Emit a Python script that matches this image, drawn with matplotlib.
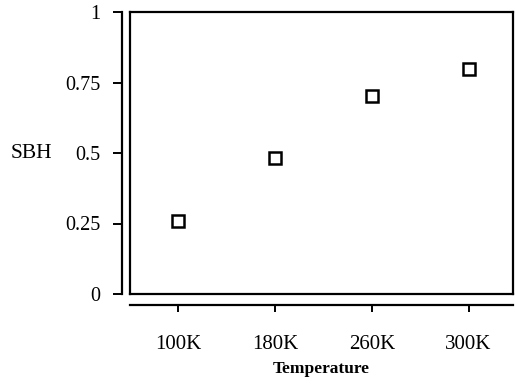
import matplotlib
matplotlib.use("Agg")
import matplotlib.pyplot as plt

categories = ["100K", "180K", "260K", "300K"]
sbh = [0.26, 0.482, 0.702, 0.798]
y_ticks = [0, 0.25, 0.5, 0.75, 1]
y_tick_labels = ["0", "0.25", "0.5", "0.75", "1"]

plt.rcParams['font.family'] = ['Liberation Serif', 'DejaVu Serif']

fig = plt.figure(figsize=(5.15, 3.85), dpi=100)
pos = [130/515, 1-294/385, (513-130)/515, (294-12)/385]

# Box axes
ax = fig.add_axes(pos)
for s in ax.spines.values():
    s.set_linewidth(1.6)
ax.set_xticks([])
ax.set_yticks([])

# Detached axis lines
ax2 = fig.add_axes(pos, facecolor='none')
ax2.spines['top'].set_visible(False)
ax2.spines['right'].set_visible(False)
ax2.spines['left'].set_position(('outward', 6))
ax2.spines['bottom'].set_position(('outward', 8))
ax2.spines['left'].set_linewidth(1.6)
ax2.spines['bottom'].set_linewidth(1.6)

x = list(range(len(categories)))
ax2.plot(x, sbh, linestyle='none', marker='s', markersize=9,
         markerfacecolor='white', markeredgecolor='black', markeredgewidth=1.8)

for a in (ax, ax2):
    a.set_xlim(-0.5, 3.46)
    a.set_ylim(0, 1)

ax2.set_xticks(x)
ax2.set_xticklabels(categories, fontsize=15)
ax2.set_yticks(y_ticks)
ax2.set_yticklabels(y_tick_labels, fontsize=14.5)
ax2.tick_params(axis='x', direction='out', length=5, width=1.4, colors='black', pad=16.5)
ax2.tick_params(axis='y', direction='out', length=6.5, width=1.4, colors='black', pad=9)

ax2.set_xlabel("Temperature", fontsize=12.5, fontweight='bold', labelpad=5)
ax2.set_ylabel("SBH", fontsize=15.5, rotation=0, labelpad=24, va='center')

fig.savefig("out.png", dpi=100)
